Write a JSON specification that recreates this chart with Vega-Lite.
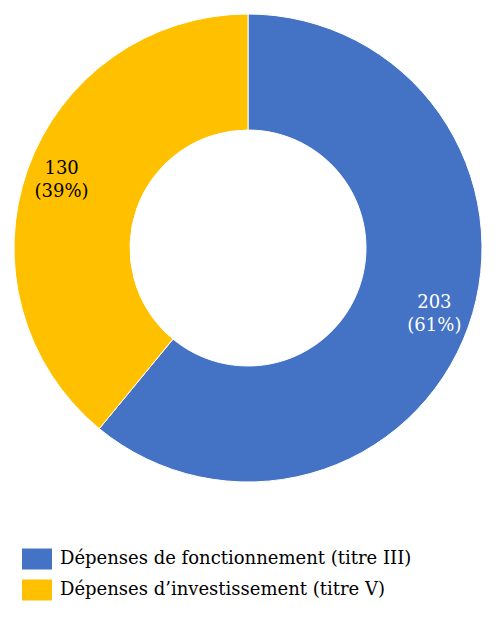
{
  "$schema": "https://vega.github.io/schema/vega-lite/v6.json",
  "width": 496,
  "height": 496,
  "autosize": {"type": "none"},
  "padding": {"top": 0, "left": 0, "right": 0, "bottom": 122},
  "background": "white",
  "config": {"view": {"stroke": null}, "font": "DejaVu Serif"},
  "data": {
    "values": [
      {"cat": "Dépenses de fonctionnement (titre III)", "value": 203, "label": ["203", "(61%)"], "rank": 1},
      {"cat": "Dépenses d’investissement (titre V)", "value": 130, "label": ["130", "(39%)"], "rank": 2}
    ]
  },
  "encoding": {
    "theta": {"field": "value", "type": "quantitative", "stack": true},
    "order": {"field": "rank", "type": "quantitative"}
  },
  "layer": [
    {
      "mark": {"type": "arc", "outerRadius": 234, "innerRadius": 118, "stroke": "white", "strokeWidth": 1},
      "encoding": {
        "color": {
          "field": "cat",
          "type": "nominal",
          "sort": ["Dépenses de fonctionnement (titre III)", "Dépenses d’investissement (titre V)"],
          "scale": {"range": ["#4472C4", "#FFC000"]},
          "legend": {
            "title": null,
            "orient": "none",
            "legendX": 22,
            "legendY": 544,
            "padding": 0,
            "symbolType": "M-1,-0.7H1V0.7H-1Z",
            "symbolSize": 900,
            "symbolStrokeWidth": 0,
            "labelFontSize": 18,
            "labelFont": "DejaVu Serif",
            "labelColor": "black",
            "labelOffset": 8,
            "rowPadding": 5,
            "labelLimit": 500
          }
        }
      }
    },
    {
      "mark": {"type": "text", "radius": 198, "dy": -12, "fontSize": 18, "lineHeight": 23, "font": "DejaVu Serif"},
      "encoding": {
        "text": {"field": "label"},
        "color": {
          "condition": {"test": "datum.rank === 1", "value": "white"},
          "value": "black"
        }
      }
    }
  ]
}
